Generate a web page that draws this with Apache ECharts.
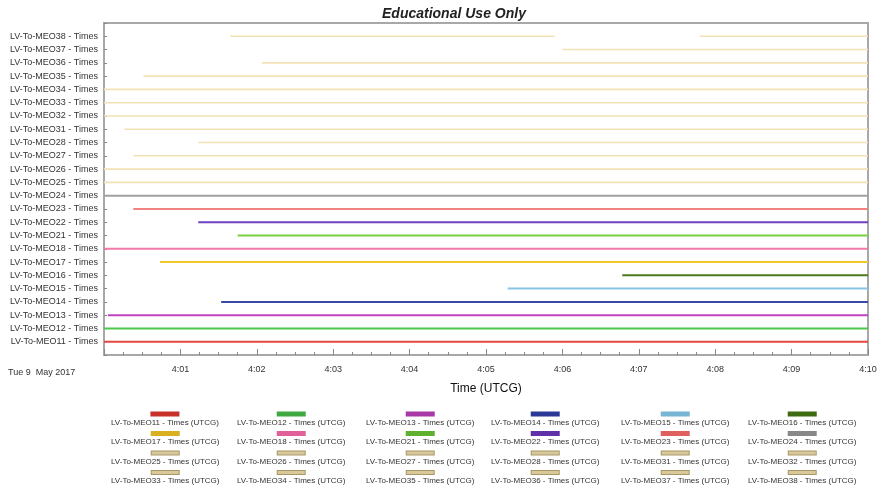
<!DOCTYPE html>
<html><head><meta charset="utf-8">
<script src="https://cdn.jsdelivr.net/npm/echarts@6/dist/echarts.min.js"></script>
<style>html,body{margin:0;padding:0;background:#fff}#c{width:880px;height:488px}</style>
</head><body><div id="c"></div>
<script>
// Access intervals, seconds after 4:00:00 UTCG, Tue 9 May 2017
const satellites = ['MEO11','MEO12','MEO13','MEO14','MEO15','MEO16','MEO17','MEO18','MEO21','MEO22','MEO23','MEO24',
  'MEO25','MEO26','MEO27','MEO28','MEO31','MEO32','MEO33','MEO34','MEO35','MEO36','MEO37','MEO38'];
const startSec = [[0],[0],[3],[92],[317],[407],[44],[0],[105],[74],[23],[0],
  [0],[0],[23],[74],[16],[0],[0],[0],[31],[124],[360],[99,468]];
const endSec = [[600],[600],[600],[600],[600],[600],[600],[600],[600],[600],[600],[600],
  [600],[600],[600],[600],[600],[600],[600],[600],[600],[600],[600],[354,600]];
const tickLabels = ['', '4:01','4:02','4:03','4:04','4:05','4:06','4:07','4:08','4:09','4:10'];
const dateLabel = 'Tue 9  May 2017';

const wheat = '#f3e2b6';
const palette = ['#e4473f','#4cc84c','#c044c0','#3a48a8','#88c4e4','#4e7a1c','#f2c82a','#f27aaa','#78d040','#7040c0','#f28282','#a0a0a0',
  wheat,wheat,wheat,wheat,wheat,wheat,wheat,wheat,wheat,wheat,wheat,wheat];
const legendFill = ['#c8302a','#40a840','#a838a8','#2a3898','#78b4d4','#3e6a12','#d8b020','#e0609a','#60b030','#6030a8','#e06060','#888888',
  '#d8c89a','#d8c89a','#d8c89a','#d8c89a','#d8c89a','#d8c89a','#d8c89a','#d8c89a','#d8c89a','#d8c89a','#d8c89a','#d8c89a'];

const FONT = '"Liberation Sans", Arial, sans-serif';
const fullName = s => 'LV-To-' + s + ' - Times (UTCG)';

const series = satellites.map((s, i) => {
  const pts = [];
  startSec[i].forEach((st, k) => {
    if (k > 0) pts.push('-');
    pts.push([st, i + 1], [endSec[i][k], i + 1]);
  });
  return {
    name: fullName(s), type: 'line', data: pts, symbol: 'none', connectNulls: false,
    lineStyle: { color: palette[i], width: i >= 12 ? 1.6 : 2 },
    itemStyle: { color: legendFill[i] },
    silent: true, z: 3
  };
});

const rich = { t: { fontSize: 8, lineHeight: 10, color: '#333', align: 'center', fontFamily: FONT } };
satellites.forEach((s, i) => {
  rich['i' + i] = { width: 27, height: 3, backgroundColor: legendFill[i], borderColor: i >= 12 ? '#a89868' : legendFill[i],
    borderWidth: 1, align: 'center', lineHeight: 7 };
});
const colCenters = [166, 292, 421, 546, 676, 803];
const legends = colCenters.map((cx, c) => ({
  orient: 'vertical', left: cx - 60, top: 408, height: 140, padding: 0, itemGap: 0,
  itemWidth: 0, itemHeight: 17, icon: 'rect', selectedMode: false,
  itemStyle: { opacity: 0 },
  data: [0, 1, 2, 3].map(r => fullName(satellites[r * 6 + c])),
  formatter: name => {
    const idx = satellites.findIndex(s => fullName(s) === name);
    return '{i' + idx + '|}\n{t|' + name + '}';
  },
  textStyle: { rich: rich, fontFamily: FONT }
}));

const chart = echarts.init(document.getElementById('c'), null, { renderer: 'canvas' });
chart.setOption({
  animation: false,
  backgroundColor: '#fff',
  textStyle: { fontFamily: FONT },
  title: { text: 'Educational Use Only', left: 377, top: 2,
    textStyle: { fontSize: 14, fontWeight: 'bold', fontStyle: 'italic', color: '#222', fontFamily: FONT } },
  grid: { left: 104, right: 12, top: 23, bottom: 133, show: true, borderColor: '#a8a8a8', borderWidth: 2, containLabel: false },
  xAxis: {
    type: 'value', min: 0, max: 600, interval: 60,
    name: 'Time (UTCG)', nameLocation: 'middle', nameGap: 28,
    nameTextStyle: { fontSize: 12, color: '#111', fontFamily: FONT },
    axisLine: { show: true, lineStyle: { color: '#a8a8a8', width: 2 } },
    axisTick: { show: true, inside: true, length: 6, lineStyle: { color: '#888' } },
    minorTick: { show: true, splitNumber: 4, length: 3, lineStyle: { color: '#888' } },
    axisLabel: { fontSize: 9, color: '#333', margin: 10, formatter: v => tickLabels[Math.round(v / 60)] || '' },
    splitLine: { show: false }, minorSplitLine: { show: false }
  },
  yAxis: {
    type: 'value', min: 0, max: 25, interval: 1,
    axisLine: { show: true, lineStyle: { color: '#a8a8a8', width: 2 } },
    axisTick: { show: true, inside: true, length: 3, lineStyle: { color: '#888' } },
    axisLabel: { fontSize: 9, color: '#333', margin: 6,
      formatter: v => (v >= 1 && v <= 24) ? 'LV-To-' + satellites[v - 1] + ' - Times' : '' },
    splitLine: { show: false }
  },
  legend: legends,
  graphic: [{ type: 'text', left: 8, top: 368, style: { text: dateLabel, fontSize: 9, fill: '#333', fontFamily: FONT } }],
  series: series
});
</script></body></html>
